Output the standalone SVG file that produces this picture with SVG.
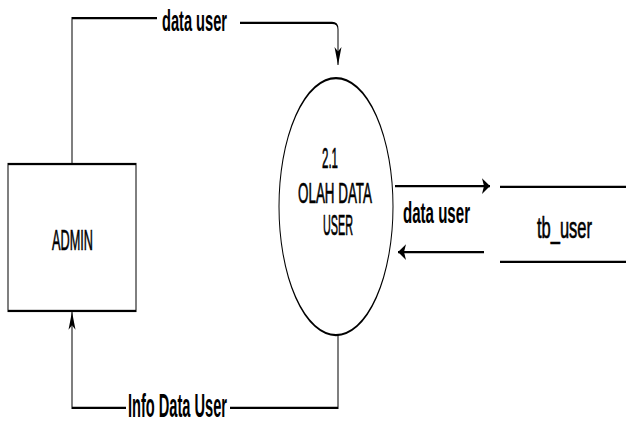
<svg xmlns="http://www.w3.org/2000/svg" width="626" height="423" viewBox="0 0 626 423">
<style>
.ln{fill:none;stroke:#000;stroke-width:1}
.nd{fill:#fff;stroke:#000;stroke-width:1}
.t{font-family:"Liberation Sans",Arial,sans-serif;font-size:13px;fill:#000;stroke:#000;stroke-width:0.3;text-anchor:middle}
.lb{font-family:"Liberation Sans",Arial,sans-serif;font-size:13px;font-weight:bold;fill:#000;text-anchor:middle}
</style>
<defs>
<marker id="arr" markerUnits="userSpaceOnUse" markerWidth="10" markerHeight="10" refX="8" refY="5" orient="auto" overflow="visible">
<path d="M8,5 L0,1.5 L2,5 L0,8.5 Z" fill="#000"/>
</marker>
</defs>
<rect width="626" height="423" fill="#fff"/>
<g transform="scale(1,2.25)">
<g id="connectors">
<path class="ln" d="M72,72.9 V8 H157"/>
<path class="ln" d="M240,10.2 H332 Q338,10.2 338,13 V28.9" marker-end="url(#arr)"/>
<path class="ln" d="M338,148.9 V181.3 H230"/>
<path class="ln" d="M126,181.3 H72 V138.5" marker-end="url(#arr)"/>
<path class="ln" d="M395,82.7 H490" marker-end="url(#arr)"/>
<path class="ln" d="M484,112 H398" marker-end="url(#arr)"/>
<text class="lb" x="194.5" y="13.8" textLength="65" lengthAdjust="spacingAndGlyphs">data user</text>
<text class="lb" x="436.5" y="99.1" textLength="67" lengthAdjust="spacingAndGlyphs">data user</text>
<text class="lb" x="177.5" y="185.5" style="font-size:14.5px" textLength="99" lengthAdjust="spacingAndGlyphs">Info Data User</text>
</g>
<g id="admin">
<rect class="nd" x="8" y="72.9" width="128" height="65.3"/>
<text class="t" x="72.5" y="111.1" style="font-size:13.5px" textLength="41" lengthAdjust="spacingAndGlyphs">ADMIN</text>
</g>
<g id="proses-2-1">
<ellipse class="nd" cx="336" cy="91.8" rx="57" ry="57.1"/>
<text class="t" x="330" y="74.7" textLength="16" lengthAdjust="spacingAndGlyphs">2.1</text>
<text class="t" x="335" y="90.2" textLength="74" lengthAdjust="spacingAndGlyphs">OLAH DATA</text>
<text class="t" x="338" y="104.4" textLength="30" lengthAdjust="spacingAndGlyphs">USER</text>
</g>
<g id="tb_user">
<path class="ln" d="M500,83.1 H626 M500,116.4 H626"/>
<text class="t" x="564.5" y="105.8" style="font-size:13.5px" textLength="55" lengthAdjust="spacingAndGlyphs">tb_user</text>
</g>
</g>
</svg>
